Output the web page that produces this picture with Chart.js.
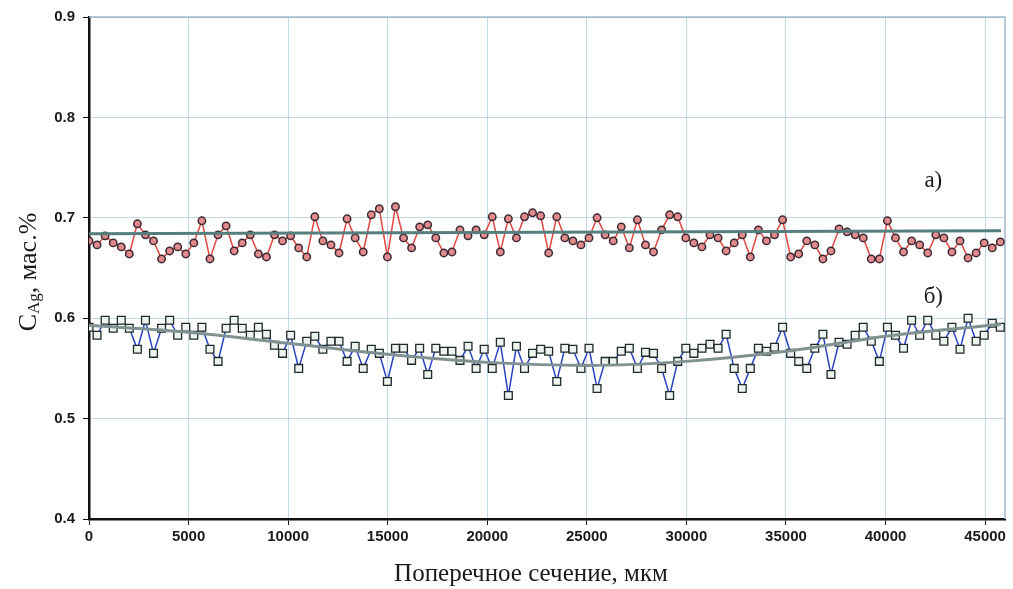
<!DOCTYPE html>
<html lang="ru">
<head>
<meta charset="UTF-8" />
<title>Распределение серебра по сечению</title>
<script src="https://cdn.jsdelivr.net/npm/chart.js"></script>
<style>
  html, body { margin: 0; padding: 0; background: #fff; }
  #wrap { width: 1013px; height: 589px; }
</style>
</head>
<body>
<div id="wrap"><canvas id="agChart" width="1013" height="589"></canvas></div>
<script>
// шаг сканирования по сечению, мкм
const stepUm = 405;

// а) — первая серия, мас.%
const seriesA = [
  0.677, 0.673, 0.682, 0.675, 0.671, 0.664, 0.694, 0.683, 0.677, 0.659,
  0.667, 0.671, 0.664, 0.675, 0.697, 0.659, 0.683, 0.692, 0.667, 0.675,
  0.683, 0.664, 0.661, 0.683, 0.677, 0.682, 0.670, 0.661, 0.701, 0.677,
  0.673, 0.665, 0.699, 0.680, 0.666, 0.703, 0.709, 0.661, 0.711, 0.680,
  0.670, 0.691, 0.693, 0.680, 0.665, 0.666, 0.688, 0.682, 0.688, 0.683,
  0.701, 0.666, 0.699, 0.680, 0.701, 0.705, 0.702,
  0.665, 0.701, 0.680, 0.677, 0.673, 0.680, 0.700, 0.683, 0.677, 0.691,
  0.670, 0.698, 0.673, 0.666, 0.688, 0.703, 0.701, 0.680, 0.675, 0.671,
  0.683, 0.680, 0.667, 0.675, 0.683, 0.661, 0.688, 0.677, 0.683, 0.698,
  0.661, 0.664, 0.677, 0.673, 0.659, 0.667, 0.689, 0.686, 0.683, 0.680,
  0.659, 0.659, 0.697, 0.680, 0.666, 0.677, 0.673, 0.665, 0.683, 0.680,
  0.666, 0.677, 0.660, 0.665, 0.675, 0.670, 0.676
];

// б) — вторая серия, мас.%
const seriesB = [
  0.591, 0.583, 0.598, 0.590, 0.598, 0.590, 0.569, 0.598, 0.565, 0.590,
  0.598, 0.583, 0.591, 0.583, 0.591, 0.569, 0.557, 0.590, 0.598, 0.590,
  0.583, 0.591, 0.584, 0.573, 0.565, 0.583, 0.550, 0.577, 0.582, 0.569,
  0.577, 0.577, 0.557, 0.572, 0.550, 0.569, 0.565, 0.537, 0.570, 0.570,
  0.558, 0.570, 0.544, 0.570, 0.567, 0.567, 0.558, 0.572, 0.550, 0.569,
  0.550, 0.576, 0.523, 0.572, 0.550, 0.565, 0.569,
  0.567, 0.537, 0.570, 0.569, 0.550, 0.570, 0.530, 0.557, 0.557, 0.567,
  0.570, 0.550, 0.566, 0.565, 0.550, 0.523, 0.557, 0.570, 0.565, 0.570,
  0.574, 0.570, 0.584, 0.550, 0.530, 0.550, 0.570, 0.567, 0.571, 0.591,
  0.565, 0.557, 0.550, 0.570, 0.584, 0.544, 0.576, 0.574, 0.583, 0.591,
  0.577, 0.557, 0.591, 0.583, 0.570, 0.598, 0.583, 0.598, 0.583, 0.577,
  0.591, 0.569, 0.600, 0.577, 0.583, 0.595, 0.591
];

// линии тренда
const trendAX = [0, 45800];
const trendAY = [0.684, 0.687];
const trendBX = [0, 5000, 10000, 15000, 20000, 25000, 30000, 35000, 40000, 45800];
const trendBY = [0.593, 0.586, 0.575, 0.564, 0.556, 0.553, 0.557, 0.567, 0.582, 0.594];

// деления осей
const xTicks = [0, 5000, 10000, 15000, 20000, 25000, 30000, 35000, 40000, 45000];
const yTicks = [0.4, 0.5, 0.6, 0.7, 0.8, 0.9];
const xMax = 46000;

// подписи кривых
const curveLabels = [
  { text: 'а)', x: 42400, y: 0.737 },
  { text: 'б)', x: 42400, y: 0.621 }
];

const toPoints = (xs, ys) => ys.map((v, i) => ({ x: xs[i], y: v }));
const scanX = seriesA.map((_, i) => i * stepUm);

const serif = '"Liberation Serif", "Times New Roman", serif';
const sans = '"Liberation Sans", Arial, sans-serif';

// подписи осей и кривых, рамка области построения
const decorPlugin = {
  id: 'decor',
  beforeDatasetsDraw(chart) {
    const { ctx, chartArea: a } = chart;
    ctx.save();
    ctx.strokeStyle = '#9fb9cc';
    ctx.lineWidth = 1.5;
    ctx.beginPath();
    ctx.moveTo(a.left, a.top);
    ctx.lineTo(a.right, a.top);
    ctx.lineTo(a.right, a.bottom);
    ctx.stroke();
    ctx.restore();
  },
  afterDraw(chart) {
    const { ctx, scales } = chart;

    // C_Ag, мас.%
    ctx.save();
    ctx.fillStyle = '#1a1a1a';
    const big = '26px ' + serif;
    const small = '17px ' + serif;
    ctx.font = big;
    const wC = ctx.measureText('C').width;
    const wTail = ctx.measureText(', мас.%').width;
    ctx.font = small;
    const wSub = ctx.measureText('Ag').width;
    const total = wC + wSub + wTail;
    ctx.translate(29, 272);
    ctx.rotate(-Math.PI / 2);
    ctx.textBaseline = 'middle';
    ctx.textAlign = 'left';
    let cx = -total / 2;
    ctx.font = big;
    ctx.fillText('C', cx, 0);
    cx += wC;
    ctx.font = small;
    ctx.fillText('Ag', cx, 6);
    cx += wSub;
    ctx.font = big;
    ctx.fillText(', мас.%', cx, 0);
    ctx.restore();

    // подпись оси X
    ctx.save();
    ctx.fillStyle = '#1a1a1a';
    ctx.font = '25px ' + serif;
    ctx.textAlign = 'center';
    ctx.textBaseline = 'middle';
    ctx.fillText('Поперечное сечение, мкм', 531, 574);

    ctx.font = '23px ' + serif;
    curveLabels.forEach(l => {
      ctx.fillText(l.text, scales.x.getPixelForValue(l.x), scales.y.getPixelForValue(l.y));
    });
    ctx.restore();
  }
};

const tickFont = { family: sans, size: 15, weight: 'bold' };
const gridStyle = { color: '#c3d9e8', lineWidth: 1, tickColor: '#111', tickLength: 6 };

new Chart(document.getElementById('agChart'), {
  type: 'line',
  data: {
    datasets: [
      {
        label: 'тренд а',
        data: toPoints(trendAX, trendAY),
        borderColor: '#557f7d',
        borderWidth: 3,
        pointRadius: 0,
        order: 0
      },
      {
        label: 'тренд б',
        data: toPoints(trendBX, trendBY),
        borderColor: '#7f9190',
        borderWidth: 3,
        pointRadius: 0,
        cubicInterpolationMode: 'monotone',
        order: 0
      },
      {
        label: 'а)',
        data: toPoints(scanX, seriesA),
        borderColor: '#e0453f',
        borderWidth: 1.5,
        pointStyle: 'circle',
        pointRadius: 3.7,
        pointBackgroundColor: '#e38a8c',
        pointBorderColor: '#3b2a33',
        pointBorderWidth: 1.5,
        order: 1
      },
      {
        label: 'б)',
        data: toPoints(scanX, seriesB),
        borderColor: '#2b43c2',
        borderWidth: 1.5,
        pointStyle: 'rect',
        pointRadius: 5.5,
        pointBackgroundColor: '#eef3ee',
        pointBorderColor: '#1d2b2b',
        pointBorderWidth: 1.3,
        order: 1
      }
    ]
  },
  options: {
    responsive: false,
    animation: false,
    devicePixelRatio: 1,
    layout: { padding: { left: 0, top: 16, right: 8, bottom: 0 } },
    plugins: { legend: { display: false }, tooltip: { enabled: false } },
    scales: {
      x: {
        type: 'linear',
        min: 0,
        max: xMax,
        afterFit: s => { s.height = 70; },
        afterBuildTicks: s => { s.ticks = xTicks.map(v => ({ value: v })); },
        border: { color: '#111', width: 2.5 },
        grid: gridStyle,
        ticks: {
          autoSkip: false,
          padding: 3,
          color: '#1a1a1a',
          font: tickFont,
          maxRotation: 0,
          callback: v => String(v)
        }
      },
      y: {
        min: yTicks[0],
        max: yTicks[yTicks.length - 1],
        afterFit: s => { s.width = 89; },
        afterBuildTicks: s => { s.ticks = yTicks.map(v => ({ value: v })); },
        border: { color: '#111', width: 2.5 },
        grid: gridStyle,
        ticks: {
          autoSkip: false,
          padding: 8,
          color: '#1a1a1a',
          font: tickFont,
          callback: v => v.toFixed(1)
        }
      }
    }
  },
  plugins: [decorPlugin]
});
</script>
</body>
</html>
